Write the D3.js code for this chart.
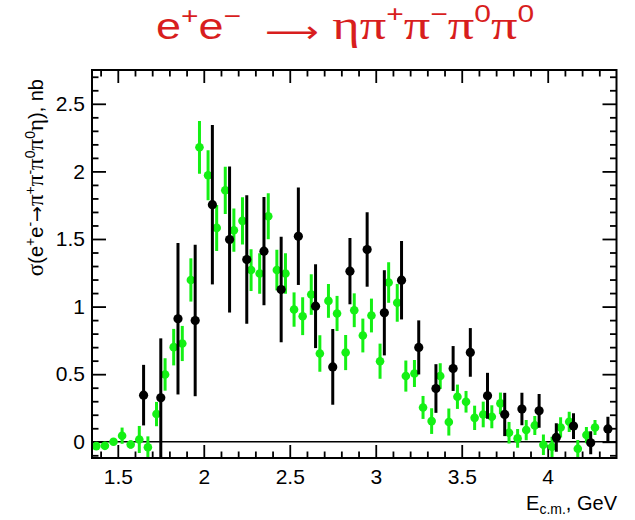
<!DOCTYPE html>
<html>
<head>
<meta charset="utf-8">
<script src="https://cdn.jsdelivr.net/npm/d3@7"></script>
<style>
  html, body { margin: 0; padding: 0; background: #fff; }
  svg { display: block; }
  text { font-family: "Liberation Sans", Arial, sans-serif; }
  .greek { font-family: "Liberation Serif", "Times New Roman", serif; }
</style>
</head>
<body>
<svg id="chart" width="635" height="520"></svg>
<script>
// Cross section sigma(e+e- -> pi+ pi- pi0 pi0 eta) vs. centre-of-mass energy

// Black series: energy points (GeV), cross sections (nb) and errors (nb)
const blackE = [1.65, 1.75, 1.85, 1.95, 2.05, 2.15, 2.25, 2.35, 2.45, 2.55,
                2.65, 2.75, 2.85, 2.95, 3.05, 3.15, 3.25, 3.35, 3.45, 3.55,
                3.65, 3.75, 3.85, 3.95, 4.05, 4.15, 4.25, 4.35];
const blackSigma = [0.345, 0.325, 0.91, 0.897, 1.754, 1.496, 1.348, 1.41, 1.126, 1.52,
                    1.003, 0.554, 1.262, 1.422, 0.954, 1.195, 0.698, 0.394, 0.542, 0.661,
                    0.34, 0.202, 0.242, 0.229, 0.032, 0.116, -0.008, 0.095];
const blackErr = [0.224, 0.44, 0.56, 0.56, 0.59, 0.54, 0.475, 0.40, 0.39, 0.36,
                  0.31, 0.28, 0.245, 0.275, 0.315, 0.29, 0.2, 0.18, 0.166, 0.18,
                  0.17, 0.16, 0.12, 0.125, 0.105, 0.095, 0.085, 0.09];

// Green series
const greenE = [1.375, 1.425, 1.475, 1.525, 1.575, 1.625, 1.675, 1.725, 1.775, 1.825,
                1.875, 1.925, 1.975, 2.025, 2.075, 2.125, 2.175, 2.225, 2.275, 2.325,
                2.375, 2.425, 2.475, 2.525, 2.575, 2.625, 2.675, 2.725, 2.775, 2.825,
                2.875, 2.925, 2.975, 3.025, 3.075, 3.125, 3.175, 3.225, 3.275, 3.325,
                3.375, 3.425, 3.475, 3.525, 3.575, 3.625, 3.675, 3.725, 3.775, 3.825,
                3.875, 3.925, 3.975, 4.025, 4.075, 4.125, 4.175, 4.225, 4.275];
const greenSigma = [-0.032, -0.03, 0.0, 0.045, -0.02, 0.017, -0.04, 0.205, 0.498, 0.70,
                    0.727, 1.197, 2.178, 1.971, 1.582, 1.86, 1.565, 1.634, 1.27, 1.245,
                    1.668, 1.27, 1.245, 0.978, 0.929, 1.089, 0.653, 1.042, 0.949, 0.66,
                    0.973, 0.786, 0.934, 0.596, 1.178, 1.028, 0.486, 0.505, 0.254, 0.153,
                    0.486, 0.146, 0.333, 0.296, 0.177, 0.202, 0.185, 0.284, 0.067, 0.025,
                    0.087, 0.121, -0.022, -0.037, 0.106, 0.148, -0.052, 0.05, 0.106];
const greenErr = [0.02, 0.02, 0.02, 0.06, 0.03, 0.1, 0.08, 0.09, 0.12, 0.135,
                  0.13, 0.16, 0.195, 0.185, 0.17, 0.175, 0.16, 0.175, 0.155, 0.15,
                  0.17, 0.15, 0.15, 0.127, 0.14, 0.15, 0.135, 0.125, 0.13, 0.13,
                  0.125, 0.125, 0.125, 0.13, 0.15, 0.14, 0.115, 0.1, 0.085, 0.095,
                  0.095, 0.1, 0.09, 0.08, 0.09, 0.095, 0.085, 0.08, 0.08, 0.07,
                  0.075, 0.07, 0.075, 0.075, 0.075, 0.075, 0.065, 0.06, 0.055];

// Axis ranges and tick values
const xRange = [1.35, 4.4];
const yRange = [-0.12, 2.75];
const xTickLabels = [1.5, 2, 2.5, 3, 3.5, 4];
const yTickLabels = [0, 0.5, 1, 1.5, 2, 2.5];
const xMinorTicks = [1.4, 1.6, 1.7, 1.8, 1.9, 2.1, 2.2, 2.3, 2.4, 2.6, 2.7, 2.8, 2.9,
                     3.1, 3.2, 3.3, 3.4, 3.6, 3.7, 3.8, 3.9, 4.1, 4.2, 4.3];
const yMinorTicks = [-0.1, 0.1, 0.2, 0.3, 0.4, 0.6, 0.7, 0.8, 0.9, 1.1, 1.2, 1.3, 1.4,
                     1.6, 1.7, 1.8, 1.9, 2.1, 2.2, 2.3, 2.4, 2.6, 2.7];

const W = 635, H = 520;
const margin = { left: 92, right: 18.5, top: 70, bottom: 62 };
const pw = W - margin.left - margin.right;
const ph = H - margin.top - margin.bottom;

const svg = d3.select("#chart");
const x = d3.scaleLinear().domain(xRange).range([0, pw]);
const y = d3.scaleLinear().domain(yRange).range([ph, 0]);

const plot = svg.append("g").attr("transform", `translate(${margin.left},${margin.top})`);

svg.append("defs").append("clipPath").attr("id", "plotClip")
  .append("rect").attr("x", 0).attr("y", 0).attr("width", pw).attr("height", ph);

// Zero line
plot.append("line")
  .attr("x1", 0).attr("x2", pw)
  .attr("y1", y(0)).attr("y2", y(0))
  .attr("stroke", "#000").attr("stroke-width", 1.6);

// Ticks on all four sides (ROOT style, pointing inward)
const majorLen = 13, minorLen = 6.5;
function tickSet(values, len) {
  plot.append("g").attr("transform", `translate(0,${ph})`)
    .call(d3.axisTop(x).tickValues(values).tickSize(len).tickFormat(""))
    .call(g => g.select(".domain").remove());
  plot.append("g")
    .call(d3.axisBottom(x).tickValues(values).tickSize(len).tickFormat(""))
    .call(g => g.select(".domain").remove());
}
tickSet(xTickLabels, majorLen);
tickSet(xMinorTicks, minorLen);

function yTickSet(values, len) {
  plot.append("g")
    .call(d3.axisRight(y).tickValues(values).tickSize(len).tickFormat(""))
    .call(g => g.select(".domain").remove());
  plot.append("g").attr("transform", `translate(${pw},0)`)
    .call(d3.axisLeft(y).tickValues(values).tickSize(len).tickFormat(""))
    .call(g => g.select(".domain").remove());
}
yTickSet(yTickLabels, majorLen + 1);
yTickSet(yMinorTicks, minorLen);

plot.selectAll(".tick line").attr("stroke", "#000").attr("stroke-width", 1.8);

// Tick labels
plot.append("g").attr("transform", `translate(0,${ph})`)
  .call(d3.axisBottom(x).tickValues(xTickLabels).tickSize(0).tickPadding(11)
        .tickFormat(d => String(d)))
  .call(g => g.select(".domain").remove())
  .selectAll("text")
  .attr("font-size", 21).attr("fill", "#000")
  .attr("font-family", "Liberation Sans, Arial, sans-serif");

plot.append("g")
  .call(d3.axisLeft(y).tickValues(yTickLabels).tickSize(0).tickPadding(7)
        .tickFormat(d => String(d)))
  .call(g => g.select(".domain").remove())
  .selectAll("text")
  .attr("font-size", 21).attr("fill", "#000")
  .attr("font-family", "Liberation Sans, Arial, sans-serif");

// Data layer
const data = plot.append("g").attr("clip-path", "url(#plotClip)");

function drawSeries(E, S, Err, color, r) {
  const pts = E.map((e, i) => ({ e, s: S[i], err: Err[i] }));
  const g = data.append("g");
  g.selectAll("line.err").data(pts).enter().append("line")
    .attr("class", "err")
    .attr("x1", d => x(d.e)).attr("x2", d => x(d.e))
    .attr("y1", d => y(d.s - d.err)).attr("y2", d => y(d.s + d.err))
    .attr("stroke", color).attr("stroke-width", 3);
  g.selectAll("circle").data(pts).enter().append("circle")
    .attr("cx", d => x(d.e)).attr("cy", d => y(d.s)).attr("r", r)
    .attr("fill", color);
}
drawSeries(greenE, greenSigma, greenErr, "#14f014", 4.3);
drawSeries(blackE, blackSigma, blackErr, "#000", 4.6);

// Frame
plot.append("rect")
  .attr("x", 0).attr("y", 0).attr("width", pw).attr("height", ph)
  .attr("fill", "none").attr("stroke", "#000").attr("stroke-width", 2);

// Axis titles
const xt = svg.append("text")
  .attr("x", 617).attr("y", 510)
  .attr("text-anchor", "end").attr("font-size", 20).attr("fill", "#000");
xt.append("tspan").text("E");
xt.append("tspan").attr("font-size", 14).attr("dy", 4).text("c.m.");
xt.append("tspan").attr("dy", -4).text(", GeV");

const yt = svg.append("text")
  .attr("transform", "translate(43,79) rotate(-90)")
  .attr("text-anchor", "end").attr("font-size", 20).attr("fill", "#000");
const ySeq = [
  ["σ", "g"], ["(e", "n"], ["+", "sup"], ["e", "n"], ["-", "sup"], ["→", "arrow"], ["π", "g"],
  ["+", "sup"], ["π", "g"], ["-", "sup"], ["π", "g"], ["0", "sup"], ["π", "g"],
  ["0", "sup"], ["η", "g"], ["), nb", "n"]
];
let shifted = false;
ySeq.forEach(([t, kind]) => {
  const sp = yt.append("tspan").text(t);
  if (kind === "sup") {
    sp.attr("font-size", 14).attr("dy", shifted ? 0 : -8);
    shifted = true;
  } else {
    if (shifted) sp.attr("dy", 8);
    shifted = false;
    if (kind === "g") sp.attr("class", "greek").attr("font-size", 23);
    if (kind === "arrow") sp.attr("font-family", "DejaVu Sans").attr("font-size", 19);
  }
});

// Title: one text element, each piece a tspan with its own size and vertical offset,
// widened slightly to the wide title face
const title = svg.append("text")
  .attr("x", 0).attr("y", 0)
  .attr("transform", "translate(345,39) scale(1.25,1)")
  .attr("text-anchor", "middle")
  .attr("fill", "#d81e1e");
const tPieces = [
  { t: "e", size: 36, fam: "Liberation Sans", off: 0 },
  { t: "+", size: 24, fam: "Liberation Sans", off: -15 },
  { t: "e", size: 36, fam: "Liberation Sans", off: 0 },
  { t: "−", size: 24, fam: "Liberation Sans", off: -15 },
  { t: "\u2002", size: 38, fam: "Liberation Sans", off: 0 },
  { t: "⟶", size: 30, fam: "DejaVu Sans", off: 3 },
  { t: "\u2002", size: 22, fam: "Liberation Sans", off: 0 },
  { t: "η", size: 42, fam: "Liberation Serif", off: 0 },
  { t: "π", size: 42, fam: "Liberation Serif", off: 0 },
  { t: "+", size: 24, fam: "Liberation Sans", off: -17 },
  { t: "π", size: 42, fam: "Liberation Serif", off: 0 },
  { t: "−", size: 24, fam: "Liberation Sans", off: -17 },
  { t: "π", size: 42, fam: "Liberation Serif", off: 0 },
  { t: "0", size: 24, fam: "Liberation Sans", off: -17 },
  { t: "π", size: 42, fam: "Liberation Serif", off: 0 },
  { t: "0", size: 24, fam: "Liberation Sans", off: -17 }
];
let prevOff = 0;
tPieces.forEach(p => {
  title.append("tspan")
    .attr("font-size", p.size).attr("font-family", p.fam)
    .attr("dy", p.off - prevOff)
    .text(p.t);
  prevOff = p.off;
});
</script>
</body>
</html>
